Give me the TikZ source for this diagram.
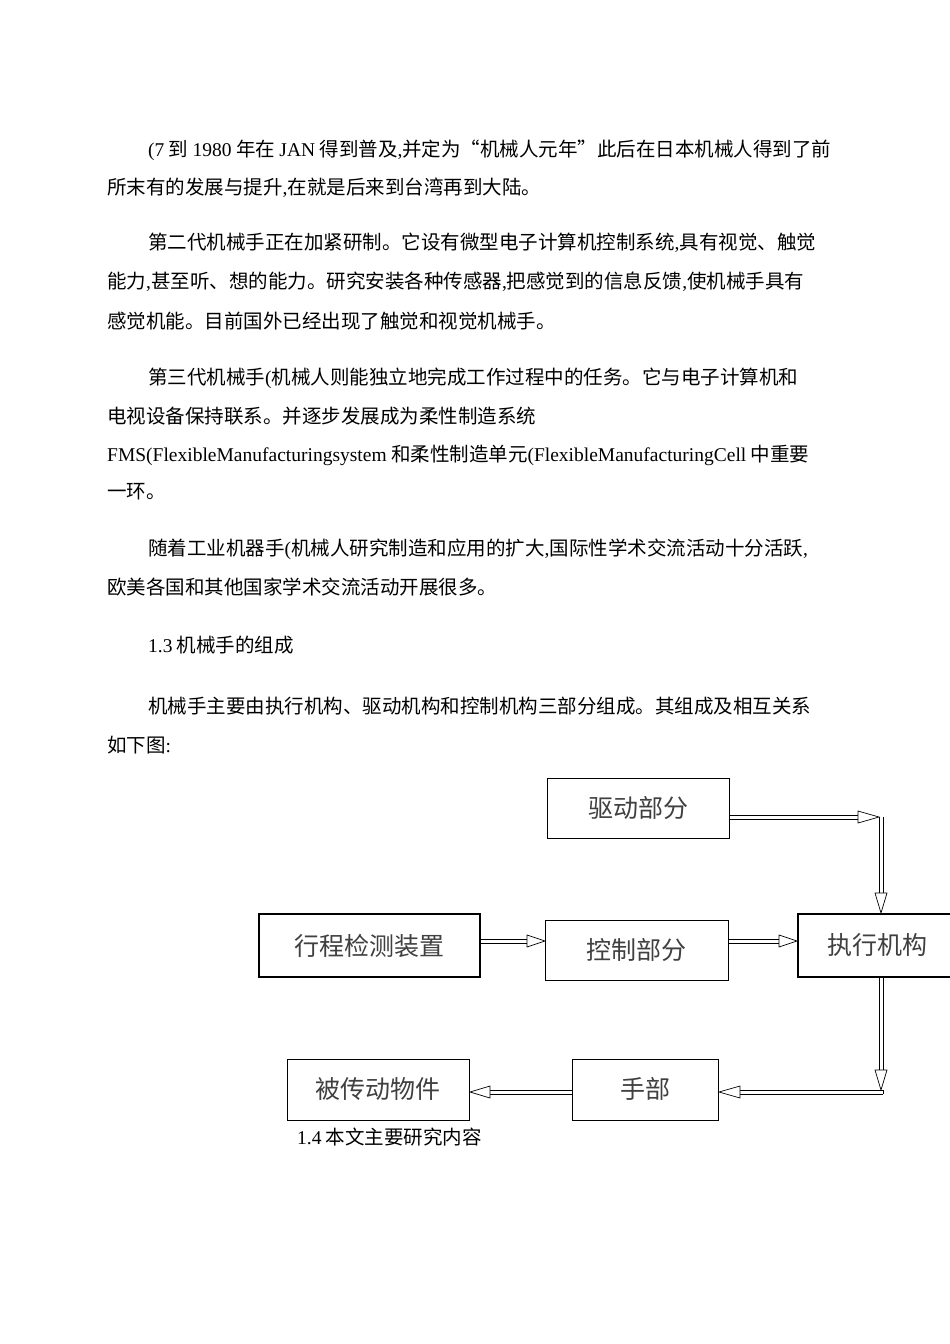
\documentclass[tikz,border=0pt]{standalone}
\usepackage{fontspec}
\setmainfont{Noto Sans CJK SC}
\newfontfamily\lat{Liberation Serif}
\begin{document}
\begin{tikzpicture}[x=1pt,y=-1pt,
  txt/.style={anchor=west,inner sep=0pt,font=\fontsize{19.5}{21}\selectfont},
  bx/.style={draw,line width=1pt,inner sep=0pt,font=\fontsize{25}{27}\selectfont,text=black!75},
  sh/.style={line width=0.9pt}]
\useasboundingbox[fill=white] (0,0) rectangle (950,1344);
\node[txt] (l1) at (148,150) {{\lat(7} 到 {\lat 1980} 年在 {\lat JAN} 得到普及{\lat,}并定为“机械人元年”此后在日本机械人得到了前};
\node[txt] (l2) at (107,188) {所末有的发展与提升{\lat,}在就是后来到台湾再到大陆。};
\node[txt] (l3) at (148,243) {第二代机械手正在加紧研制。它设有微型电子计算机控制系统{\lat,}具有视觉、触觉};
\node[txt] (l4) at (107,282) {能力{\lat,}甚至听、想的能力。研究安装各种传感器{\lat,}把感觉到的信息反馈{\lat,}使机械手具有};
\node[txt] (l5) at (107,321) {感觉机能。目前国外已经出现了触觉和视觉机械手。};
\node[txt] (l6) at (148,378) {第三代机械手{\lat(}机械人则能独立地完成工作过程中的任务。它与电子计算机和};
\node[txt] (l7) at (107,416) {电视设备保持联系。并逐步发展成为柔性制造系统};
\node[txt] (l8) at (107,455) {{\lat FMS(FlexibleManufacturingsystem} 和柔性制造单元{\lat(FlexibleManufacturingCell} 中重要};
\node[txt] (l9) at (107,492) {一环。};
\node[txt] (l10) at (148,549) {随着工业机器手{\lat(}机械人研究制造和应用的扩大{\lat,}国际性学术交流活动十分活跃{\lat,}};
\node[txt] (l11) at (107,587) {欧美各国和其他国家学术交流活动开展很多。};
\node[txt] (l12) at (148,645) {{\lat 1.3} 机械手的组成};
\node[txt] (l13) at (148,706) {机械手主要由执行机构、驱动机构和控制机构三部分组成。其组成及相互关系};
\node[txt] (l14) at (107,745) {如下图{\lat:}};
\node[txt] (cap) at (297,1137) {{\lat 1.4} 本文主要研究内容};
% boxes
\node[bx,minimum width=182,minimum height=60] (drv) at (638,808) {\raisebox{-6pt}{驱动部分}};
\node[bx,minimum width=221,minimum height=63,line width=1.6pt] (det) at (369.5,945.5) {\raisebox{-6pt}{行程检测装置}};
\node[bx,minimum width=183,minimum height=60] (ctl) at (636.5,950) {\raisebox{-6pt}{控制部分}};
\node[bx,minimum width=170,minimum height=63,line width=1.6pt,anchor=west] (exe) at (797,945.5) {\raisebox{-6pt}{执行机构}\hspace*{10pt}};
\node[bx,minimum width=182,minimum height=61] (obj) at (378,1089.5) {\raisebox{4pt}{被传动物件}};
\node[bx,minimum width=146,minimum height=61] (hand) at (645,1089.5) {\raisebox{4pt}{手部}};
\coordinate (c1) at (881,817);
\coordinate (c2) at (881,1092);
\newcommand{\tri}[3]{\draw[line width=0.7pt,fill=white] #1 -- #2 -- #3 -- cycle;}
% horizontal shaft: two lines at y-2 and y+2
\newcommand{\hsh}[3]{\draw[sh] (#1,#3-2) -- (#2,#3-2); \draw[sh] (#1,#3+2) -- (#2,#3+2);}
\newcommand{\vsh}[3]{\draw[sh] (#3-2,#1) -- (#3-2,#2); \draw[sh] (#3+2,#1) -- (#3+2,#2);}
\hsh{729}{862}{817}
\tri{(858,811)}{(858,823)}{(879,817)}
\vsh{817}{895}{881}
\tri{(875,893)}{(887,893)}{(881,913)}
\hsh{481}{528}{941}
\tri{(527,935)}{(527,947)}{(545,941)}
\hsh{729}{780}{941}
\tri{(779,935)}{(779,947)}{(797,941)}
\vsh{978}{1072}{881}
\tri{(875,1070)}{(887,1070)}{(881,1090)}
\hsh{738}{883}{1092}
\draw[sh] (883,1090) -- (883,1094);
\tri{(740,1086)}{(740,1098)}{(719,1092)}
\hsh{488}{572}{1092}
\tri{(490,1086)}{(490,1098)}{(470,1092)}
\end{tikzpicture}
\end{document}
